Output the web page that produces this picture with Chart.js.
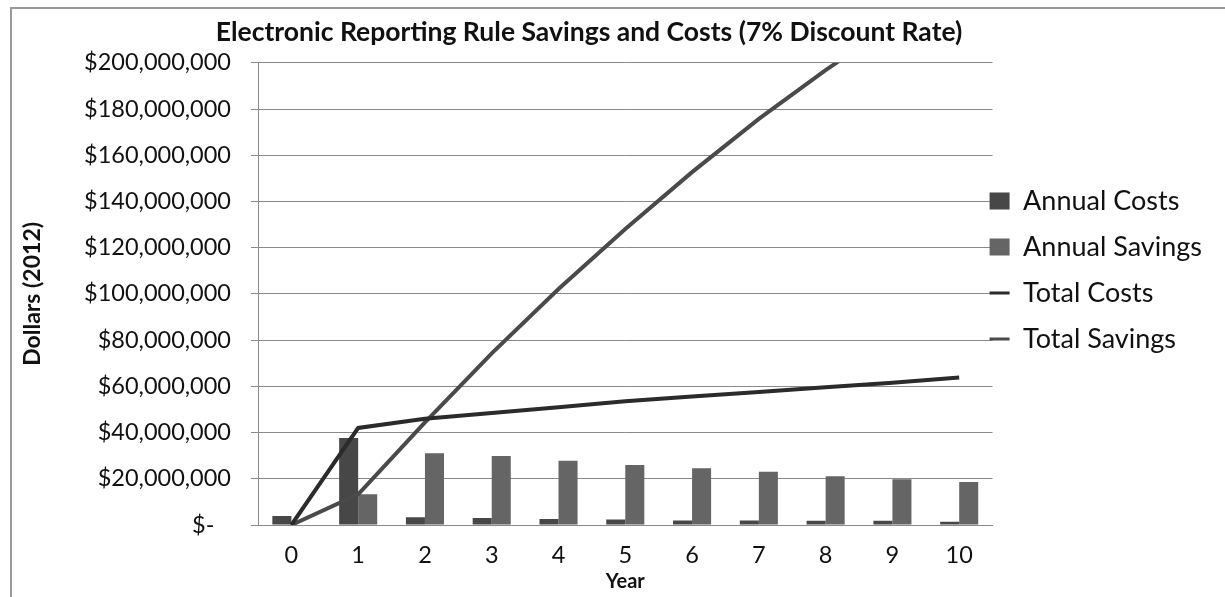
<!DOCTYPE html>
<html lang="en">
<head>
    <meta charset="UTF-8">
    <title>Electronic Reporting Rule Savings and Costs</title>
    <script src="https://cdn.jsdelivr.net/npm/chart.js"></script>
    <style>
        html, body { margin: 0; padding: 0; background: #fff; width: 1225px; height: 597px; overflow: hidden; }
        .frame { position: absolute; left: 10px; top: 7px; width: 1400px; height: 800px; border: 2px solid #9a9a9a; }
        .wrap { position: absolute; left: -56px; top: 0; width: 1290px; height: 597px; }
    </style>
</head>
<body>
    <div class="frame"></div>
    <div class="wrap"><canvas id="myChart"></canvas></div>

    <script>
        // data (dollars, 2012)
        const years = ['0', '1', '2', '3', '4', '5', '6', '7', '8', '9', '10'];
        const annualCosts   = [3900000, 37600000, 3400000, 3000000, 2600000, 2400000, 2000000, 1900000, 1800000, 1800000, 1400000];
        const annualSavings = [0, 13300000, 31100000, 29900000, 27800000, 26000000, 24600000, 23000000, 21100000, 19800000, 18600000];
        const totalCosts    = [0, 42000000, 46000000, 48500000, 51000000, 53500000, 55600000, 57500000, 59600000, 61600000, 63800000];
        const totalSavings  = [0, 13300000, 44400000, 74300000, 102100000, 128100000, 152700000, 175700000, 196800000, 216600000, 235200000];
        const yTicks = { min: 0, max: 200000000, step: 20000000 };

        Chart.defaults.font.family = 'Lato';
        Chart.defaults.color = '#111';

        // move the legend block up/left so it sits next to the plot like the original
        const legendShift = {
            id: 'legendShift',
            afterLayout(chart) {
                const lg = chart.legend;
                lg.left -= 22; lg.right -= 22;
                lg.top -= 24; lg.bottom -= 24;
            }
        };

        const ctx = document.querySelector('#myChart');
        const myChart = new Chart(ctx, {
            type: 'bar',
            data: {
                labels: years,
                datasets: [{
                    label: 'Annual Costs',
                    data: annualCosts,
                    backgroundColor: '#474747',
                    order: 2
                }, {
                    label: 'Annual Savings',
                    data: annualSavings,
                    backgroundColor: '#656565',
                    order: 2
                }, {
                    type: 'line',
                    label: 'Total Costs',
                    data: totalCosts,
                    borderColor: '#2b2b2b',
                    backgroundColor: '#2b2b2b',
                    borderWidth: 4,
                    pointRadius: 0,
                    tension: 0,
                    order: 1
                }, {
                    type: 'line',
                    label: 'Total Savings',
                    data: totalSavings,
                    borderColor: '#4a4a4a',
                    backgroundColor: '#4a4a4a',
                    borderWidth: 4,
                    pointRadius: 0,
                    tension: 0,
                    order: 1
                }]
            },
            options: {
                responsive: true,
                maintainAspectRatio: false,
                animation: false,
                categoryPercentage: 0.57,
                barPercentage: 1.0,
                layout: { padding: 0 },
                plugins: {
                    title: {
                        display: true,
                        text: 'Electronic Reporting Rule Savings and Costs (7% Discount Rate)',
                        font: { size: 26.5, weight: 'bold' },
                        color: '#111',
                        padding: { top: 17, bottom: 14 }
                    },
                    legend: {
                        position: 'right',
                        fullSize: false,
                        labels: {
                            font: { size: 27 },
                            color: '#111',
                            padding: 19,
                            usePointStyle: true,
                            pointStyleWidth: 20,
                            boxHeight: 17,
                            sort: (a, b) => a.datasetIndex - b.datasetIndex,
                            generateLabels(chart) {
                                const items = Chart.defaults.plugins.legend.labels.generateLabels(chart);
                                items.forEach(it => {
                                    const ds = chart.data.datasets[it.datasetIndex];
                                    if (ds.type === 'line') {
                                        it.pointStyle = 'line';
                                        it.lineWidth = 3;
                                        it.strokeStyle = ds.borderColor;
                                    } else {
                                        it.pointStyle = 'rect';
                                        it.lineWidth = 0;
                                    }
                                });
                                return items;
                            }
                        }
                    },
                    tooltip: { enabled: false }
                },
                scales: {
                    x: {
                        afterFit(scale) { scale.height = 72; },
                        grid: { display: false, drawTicks: false },
                        border: { display: true, color: '#8a8a8a', width: 1 },
                        ticks: { font: { size: 23.5 }, padding: 16, color: '#111' },
                        title: {
                            display: true,
                            text: 'Year',
                            font: { size: 20, weight: 'bold' },
                            color: '#111',
                            padding: { top: 2, bottom: 3 }
                        }
                    },
                    y: {
                        min: yTicks.min,
                        max: yTicks.max,
                        afterFit(scale) { scale.width = 314; },
                        grid: { color: '#8a8a8a', lineWidth: 1, drawTicks: true, tickLength: 7, tickColor: '#8a8a8a' },
                        border: { display: true, color: '#8a8a8a', width: 1 },
                        ticks: {
                            stepSize: yTicks.step,
                            font: { size: 23.5 },
                            padding: 20,
                            color: '#111',
                            callback: function(v) {
                                if (v === 0) return '$-\u2007\u2009';
                                return '$' + v.toLocaleString('en-US');
                            }
                        },
                        title: {
                            display: true,
                            text: 'Dollars (2012)',
                            font: { size: 23, weight: 'bold' },
                            color: '#111',
                            padding: { top: 75, bottom: 4 }
                        }
                    }
                }
            },
            plugins: [legendShift]
        });
    </script>
</body>
</html>
